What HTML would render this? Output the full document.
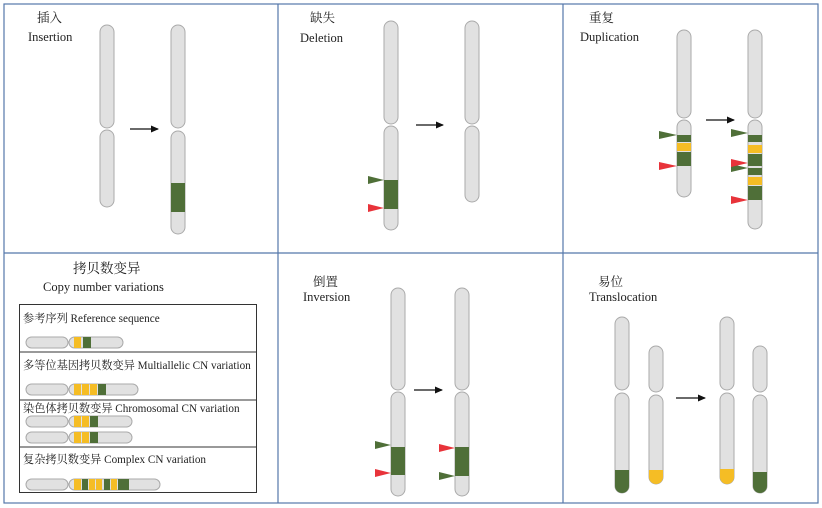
<!DOCTYPE html>
<html><head><meta charset="utf-8"><style>
html,body{margin:0;padding:0;background:#fff}
svg{display:block}
text{font-family:"Liberation Serif","Noto Serif CJK SC","Noto Sans CJK SC",serif;fill:#222}
</style></head><body>
<svg width="822" height="508" viewBox="0 0 822 508" xmlns="http://www.w3.org/2000/svg">
<defs>
<marker id="ah" markerWidth="8" markerHeight="8" refX="7" refY="4" orient="auto" markerUnits="userSpaceOnUse"><path d="M0,0.5 L8,4 L0,7.5z" fill="#111"/></marker>
</defs>
<g fill="none" stroke="#5577aa" stroke-width="1.2">
<rect x="4" y="4" width="814" height="499"/>
<line x1="278" y1="4" x2="278" y2="503"/><line x1="563" y1="4" x2="563" y2="503"/>
<line x1="4" y1="253" x2="818" y2="253"/>
</g>
<g stroke="#aaa" stroke-width="1" fill="#e1e1e1">
<rect x="100" y="25" width="14" height="103" rx="7"/><rect x="100" y="130" width="14" height="77" rx="7"/>
<rect x="171" y="25" width="14" height="103" rx="7"/><rect x="171" y="131" width="14" height="103" rx="7"/>
<rect x="384" y="21" width="14" height="103" rx="7"/><rect x="384" y="126" width="14" height="104" rx="7"/>
<rect x="465" y="21" width="14" height="103" rx="7"/><rect x="465" y="126" width="14" height="76" rx="7"/>
<rect x="677" y="30" width="14" height="88" rx="7"/><rect x="677" y="120" width="14" height="77" rx="7"/>
<rect x="748" y="30" width="14" height="88" rx="7"/><rect x="748" y="120" width="14" height="109" rx="7"/>
<rect x="391" y="288" width="14" height="102" rx="7"/><rect x="391" y="392" width="14" height="104" rx="7"/>
<rect x="455" y="288" width="14" height="102" rx="7"/><rect x="455" y="392" width="14" height="104" rx="7"/>
<rect x="615" y="317" width="14" height="73" rx="7"/><rect x="615" y="393" width="14" height="100" rx="7"/>
<rect x="649" y="346" width="14" height="46" rx="7"/><rect x="649" y="395" width="14" height="89" rx="7"/>
<rect x="720" y="317" width="14" height="73" rx="7"/><rect x="720" y="393" width="14" height="91" rx="7"/>
<rect x="753" y="346" width="14" height="46" rx="7"/><rect x="753" y="395" width="14" height="98" rx="7"/>
</g>
<g fill="#4f6f38">
<rect x="171" y="183" width="14" height="29"/>
<rect x="384" y="180" width="14" height="29"/>
<rect x="677" y="135" width="14" height="7"/><rect x="677" y="152" width="14" height="14"/>
<rect x="748" y="135" width="14" height="7"/><rect x="748" y="154" width="14" height="12"/><rect x="748" y="168" width="14" height="7"/><rect x="748" y="186" width="14" height="14"/>
<rect x="391" y="447" width="14" height="28"/><rect x="455" y="447" width="14" height="29"/>
<path d="M615,470 h14 v16 a7,7 0 0 1 -14,0z"/><path d="M753,472 h14 v14 a7,7 0 0 1 -14,0z"/>
</g>
<g fill="#f5bd25">
<rect x="677" y="143" width="14" height="8"/>
<rect x="748" y="145" width="14" height="8"/><rect x="748" y="177" width="14" height="8"/>
<path d="M649,470 h14 v7 a7,7 0 0 1 -14,0z"/><path d="M720,469 h14 v8 a7,7 0 0 1 -14,0z"/>
</g>
<g fill="#4f6f38">
<path d="M368,176 L384,180 L368,184z"/><path d="M659,131 L677,135 L659,139z"/>
<path d="M731,129 L748,133 L731,137z"/><path d="M731,164 L748,168 L731,172z"/>
<path d="M375,441 L391,445 L375,449z"/><path d="M439,472 L455,476 L439,480z"/>
</g>
<g fill="#e8333a">
<path d="M368,204 L384,208 L368,212z"/><path d="M659,162 L677,166 L659,170z"/>
<path d="M731,159 L748,163 L731,167z"/><path d="M731,196 L748,200 L731,204z"/>
<path d="M375,469 L391,473 L375,477z"/><path d="M439,444 L455,448 L439,452z"/>
</g>
<g stroke="#111" stroke-width="1.3" marker-end="url(#ah)">
<line x1="130" y1="129" x2="158" y2="129"/><line x1="416" y1="125" x2="443" y2="125"/>
<line x1="706" y1="120" x2="734" y2="120"/><line x1="414" y1="390" x2="442" y2="390"/>
<line x1="676" y1="398" x2="705" y2="398"/>
</g>
<g font-size="12.5">
<text x="37" y="22">插入</text><text x="28" y="41">Insertion</text>
<text x="310" y="22">缺失</text><text x="300" y="42">Deletion</text>
<text x="589" y="22">重复</text><text x="580" y="41">Duplication</text>
<text x="313" y="286">倒置</text><text x="303" y="301">Inversion</text>
<text x="598" y="286">易位</text><text x="589" y="301">Translocation</text>
<text x="73" y="273" font-size="13.5">拷贝数变异</text><text x="43" y="291">Copy number variations</text>
</g>
<g fill="none" stroke="#333" stroke-width="1">
<rect x="19.5" y="304.5" width="237" height="188"/>
<line x1="19" y1="352" x2="257" y2="352"/><line x1="19" y1="400" x2="257" y2="400"/><line x1="19" y1="447" x2="257" y2="447"/>
</g>
<g font-size="11.2">
<text x="23" y="322">参考序列 Reference sequence</text>
<text x="23" y="369">多等位基因拷贝数变异 Multiallelic CN variation</text>
<text x="23" y="412">染色体拷贝数变异 Chromosomal CN variation</text>
<text x="23" y="463">复杂拷贝数变异 Complex CN variation</text>
</g>
<g stroke="#aaa" stroke-width="1" fill="#e1e1e1">
<rect x="26" y="337" width="42" height="11" rx="5.5"/><rect x="69" y="337" width="54" height="11" rx="5.5"/>
<rect x="26" y="384" width="42" height="11" rx="5.5"/><rect x="69" y="384" width="69" height="11" rx="5.5"/>
<rect x="26" y="416" width="42" height="11" rx="5.5"/><rect x="69" y="416" width="63" height="11" rx="5.5"/>
<rect x="26" y="432" width="42" height="11" rx="5.5"/><rect x="69" y="432" width="63" height="11" rx="5.5"/>
<rect x="26" y="479" width="42" height="11" rx="5.5"/><rect x="69" y="479" width="91" height="11" rx="5.5"/>
</g>
<g fill="#f5bd25">
<rect x="74" y="337" width="7" height="11"/>
<rect x="74" y="384" width="7" height="11"/><rect x="82" y="384" width="7" height="11"/><rect x="90" y="384" width="7" height="11"/>
<rect x="74" y="416" width="7" height="11"/><rect x="82" y="416" width="7" height="11"/>
<rect x="74" y="432" width="7" height="11"/><rect x="82" y="432" width="7" height="11"/>
<rect x="74" y="479" width="7" height="11"/><rect x="89" y="479" width="6" height="11"/><rect x="96" y="479" width="6" height="11"/><rect x="111" y="479" width="6" height="11"/>
</g>
<g fill="#4f6f38">
<rect x="83" y="337" width="8" height="11"/>
<rect x="98" y="384" width="8" height="11"/>
<rect x="90" y="416" width="8" height="11"/><rect x="90" y="432" width="8" height="11"/>
<rect x="82" y="479" width="6" height="11"/><rect x="104" y="479" width="6" height="11"/><rect x="118" y="479" width="11" height="11"/>
</g>
</svg>
</body></html>
